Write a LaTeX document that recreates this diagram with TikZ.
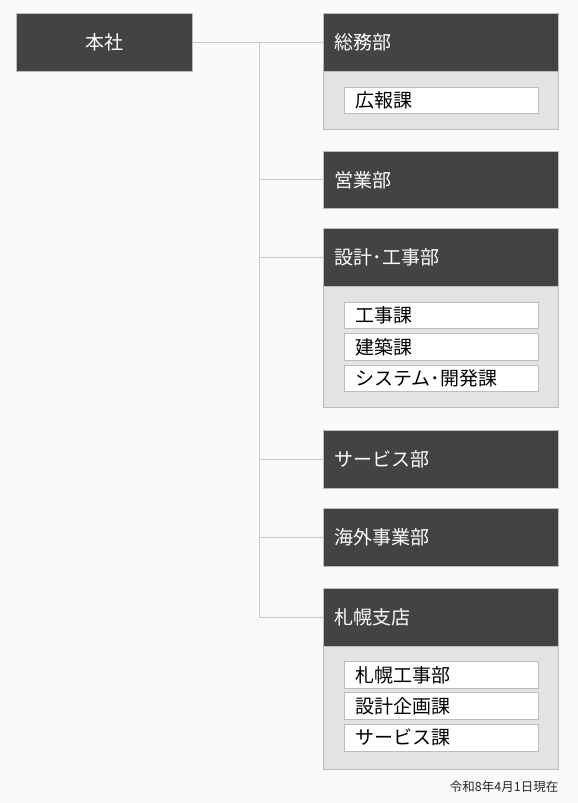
\documentclass[tikz,border=0pt]{standalone}
\usepackage{fontspec}
\setmainfont{Noto Sans CJK JP}
\definecolor{bgc}{HTML}{FAFAFA}
\definecolor{darkc}{HTML}{434343}
\definecolor{bodyc}{HTML}{E3E3E3}
\definecolor{edgec}{HTML}{BDBDBD}
\definecolor{linec}{HTML}{C8C8C8}
\tikzset{
  headbox/.style={draw=edgec, fill=darkc, text=white, anchor=north west,
    minimum width=235pt, minimum height=58pt, text width=212pt, inner xsep=11.5pt,
    align=left, font=\fontsize{19}{22}\selectfont, line width=0.8pt},
  topbox/.style={draw=edgec, fill=darkc, text=white, anchor=north west,
    minimum width=176pt, minimum height=58pt, align=center,
    font=\fontsize{19}{22}\selectfont, line width=0.8pt},
  bodybox/.style={draw=edgec, fill=bodyc, anchor=north west, minimum width=235pt,
    line width=0.8pt, inner sep=0pt},
  secbox/.style={draw=edgec, fill=white, anchor=north west, minimum width=194pt,
    minimum height=26pt, text width=172pt, inner xsep=11pt, inner ysep=0pt, align=left,
    font=\fontsize{19}{21}\selectfont, line width=0.8pt},
  conn/.style={draw=linec, line width=0.9pt},
  datelabel/.style={anchor=east, inner sep=0pt, font=\fontsize{12.5}{14}\selectfont, text=black!85}
}
\begin{document}
\begin{tikzpicture}[x=1pt,y=-1pt]
\useasboundingbox (0,0) rectangle (578,803);
\fill[bgc] (0,0) rectangle (578,803);

\node[topbox] (honsha) at (16,13) {本社};

% 総務部
\node[bodybox, minimum height=58pt] (soumubody) at (323,71) {};
\node[headbox] (soumu) at (323,13) {総務部};
\node[secbox] (kouhou) at (344,87) {広報課};

% 営業部
\node[headbox, minimum height=57pt] (eigyo) at (323,151) {営業部};

% 設計・工事部
\node[bodybox, minimum height=121pt] (sekkeibody) at (323,286) {};
\node[headbox] (sekkei) at (323,228) {設計･工事部};
\node[secbox] (kouji) at (344,302) {工事課};
\node[secbox, minimum height=27pt] (kenchiku) at (344,333) {建築課};
\node[secbox] (system) at (344,365) {システム･開発課};

% サービス部
\node[headbox] (service) at (323,430) {サービス部};

% 海外事業部
\node[headbox] (kaigai) at (323,508) {海外事業部};

% 札幌支店
\node[bodybox, minimum height=123pt] (sapporobody) at (323,646) {};
\node[headbox] (sapporo) at (323,588) {札幌支店};
\node[secbox, minimum height=27pt] (sapkouji) at (344,661) {札幌工事部};
\node[secbox, minimum height=27pt] (kikaku) at (344,692) {設計企画課};
\node[secbox, minimum height=27pt] (sapservice) at (344,724) {サービス課};

\node[datelabel] (date) at (558.5,787) {令和8年4月1日現在};

% connectors
\coordinate (trunk) at (259,0);
\draw[conn] (honsha.east) -- (soumu.west);
\draw[conn] (soumu.west -| trunk) -- (sapporo.west -| trunk);
\draw[conn] (eigyo.west) -- (eigyo.west -| trunk);
\draw[conn] (sekkei.west) -- (sekkei.west -| trunk);
\draw[conn] (service.west) -- (service.west -| trunk);
\draw[conn] (kaigai.west) -- (kaigai.west -| trunk);
\draw[conn] (sapporo.west) -- (sapporo.west -| trunk);
\end{tikzpicture}
\end{document}
